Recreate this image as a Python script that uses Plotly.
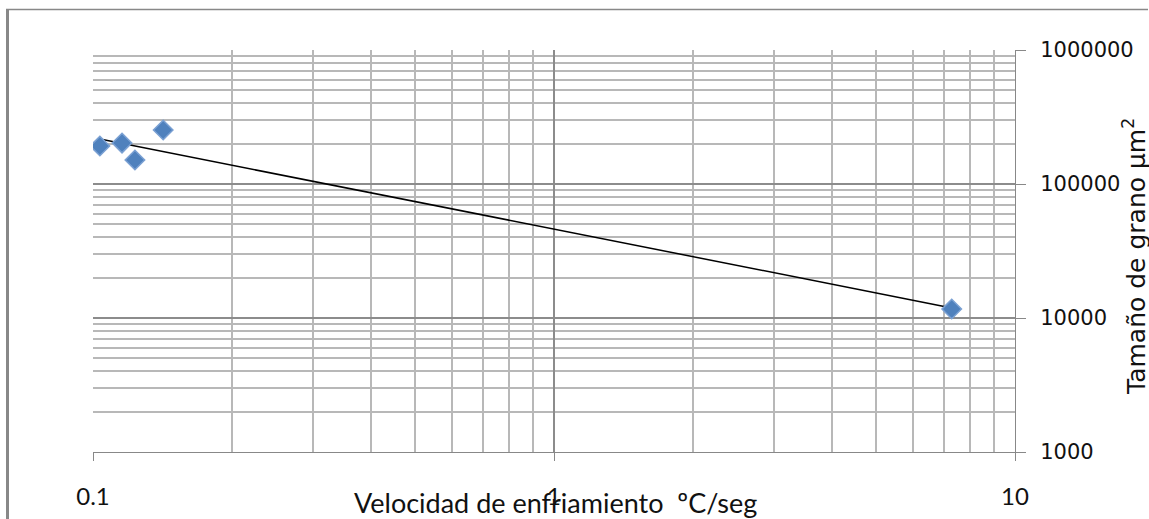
import numpy as np
import plotly.graph_objects as go

# Data
velocidad = [0.1035, 0.1156, 0.1233, 0.142, 7.29]          # ºC/seg
tamano = [192000, 202000, 151000, 253000, 11670]          # µm²

x_tick_vals = [0.1, 1, 10]
x_tick_text = ["0.1", "1", "10"]
y_tick_vals = [1000, 10000, 100000, 1000000]
y_tick_text = ["1000", "10000", "100000", "1000000"]

x_title = "Velocidad de enfriamiento  ºC/seg"
y_title = "Tamaño de grano µm<sup>2</sup>"

# Power-law trendline (least squares on log-log)
lx = np.log10(velocidad)
ly = np.log10(tamano)
slope, intercept = np.polyfit(lx, ly, 1)
fit_x = np.logspace(lx.min(), lx.max(), 50)
fit_y = 10 ** (intercept + slope * np.log10(fit_x))

W, H = 1149, 519
L, R, T, B = 93, 134, 50, 67
PW, PH = W - L - R, H - T - B


def px(xp):
    return (xp - L) / PW


def py(yp):
    return (H - B - yp) / PH


fig = go.Figure()
fig.add_trace(go.Scatter(
    x=fit_x, y=fit_y, mode="lines",
    line=dict(color="black", width=1.5),
    showlegend=False, hoverinfo="skip"))
fig.add_trace(go.Scatter(
    x=velocidad, y=tamano, mode="markers",
    marker=dict(symbol="diamond", size=15, color="#4F81BD",
                line=dict(color="#7ba1d3", width=1.5)),
    showlegend=False))

major_grid = "#8c8c8c"
minor_grid = "#b8b8b8"

fig.update_layout(
    width=W, height=H,
    margin=dict(l=L, r=R, t=T, b=B, autoexpand=False),
    paper_bgcolor="white", plot_bgcolor="white",
    xaxis=dict(
        type="log", range=[-1, 1],
        tickmode="array", tickvals=x_tick_vals, ticktext=x_tick_text,
        ticks="outside", ticklen=8, tickcolor="#888888", tickwidth=1,
        showgrid=True, gridcolor=major_grid, gridwidth=2,
        showline=True, linecolor="#888888", linewidth=1,
        zeroline=False,
        minor=dict(dtick="D1", showgrid=True, gridcolor=minor_grid,
                   gridwidth=1.5, ticks=""),
        tickfont=dict(family="Lato", size=24, color="#111111"),
        ticklabelstandoff=15,
        automargin=False,
    ),
    yaxis=dict(
        type="log", range=[3, 6], side="right",
        tickmode="array", tickvals=y_tick_vals, ticktext=y_tick_text,
        ticks="outside", ticklen=10, tickcolor="#888888", tickwidth=1,
        showgrid=True, gridcolor=major_grid, gridwidth=2,
        showline=True, linecolor="#888888", linewidth=1,
        zeroline=False,
        minor=dict(dtick="D1", showgrid=True, gridcolor=minor_grid,
                   gridwidth=1.5, ticks=""),
        tickfont=dict(family="DejaVu Sans", size=21, color="#111111"),
        ticklabelstandoff=10,
        automargin=False,
    ),
    annotations=[
        dict(text=x_title, xref="paper", yref="paper",
             x=px(555), y=py(502), xanchor="center", yanchor="middle",
             showarrow=False,
             font=dict(family="Lato", size=27, color="#111111")),
        dict(text=y_title, xref="paper", yref="paper",
             x=px(1134), y=py(257), xanchor="center", yanchor="middle",
             textangle=-90, showarrow=False,
             font=dict(family="DejaVu Sans", size=25, color="#111111")),
    ],
    shapes=[
        dict(type="line", xref="paper", yref="paper",
             x0=px(7.5), x1=px(7.5), y0=py(H + 2), y1=py(9),
             line=dict(color="#888888", width=3)),
        dict(type="line", xref="paper", yref="paper",
             x0=px(6), x1=px(1148), y0=py(9.5), y1=py(9.5),
             line=dict(color="#888888", width=1.5)),
    ],
)

fig.write_html("out.html")
